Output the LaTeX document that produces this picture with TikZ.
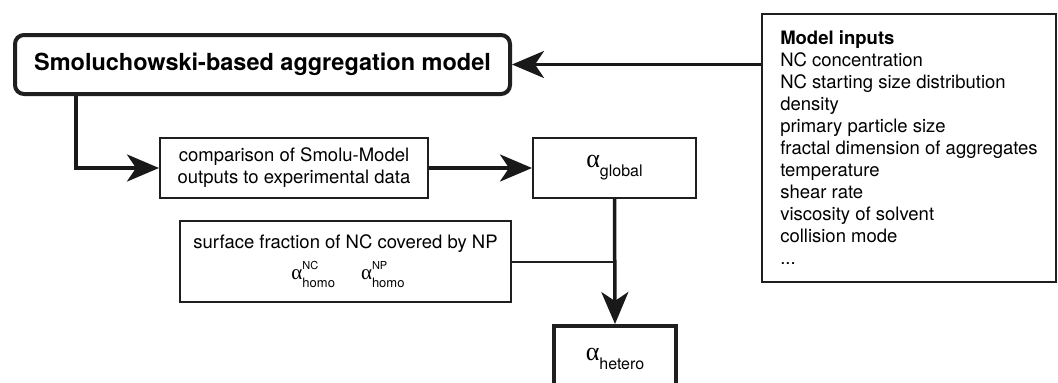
\documentclass[tikz,border=0pt]{standalone}
\usepackage{fontspec}
\setmainfont{TeX Gyre Heros}
\newfontfamily\grk{Liberation Serif}
\usetikzlibrary{arrows.meta}
\newcommand\albig[1]{{\grk\fontsize{26}{26}\selectfont α}\raisebox{-9pt}{\fontsize{16}{16}\selectfont #1}}
\newcommand\alhomo[1]{{\grk\fontsize{21}{21}\selectfont α}\rlap{\raisebox{10pt}{\fontsize{11}{11}\selectfont #1}}\raisebox{-8pt}{\fontsize{13}{13}\selectfont homo}}
\begin{document}
\begin{tikzpicture}[x=1pt,y=-1pt,
  base/.style={draw=black!88, fill=white, inner sep=0pt, align=center,
    font=\fontsize{18.5}{22}\selectfont},
  thinbox/.style={base, line width=2pt},
  thickbox/.style={base, line width=4pt},
  arr/.style={line width=3.5pt, black!90,
    -{Stealth[length=32pt,width=27pt,inset=9pt]}},
  link/.style={line width=3.5pt, black!90},
  thinlink/.style={line width=2pt, black!88}]
\clip (0,0) rectangle (1058,383);
\fill[white] (0,0) rectangle (1058,383);

\node[thickbox, rounded corners=9pt, minimum width=495pt, minimum height=59pt,
  font=\fontsize{23.5}{26}\selectfont\bfseries] (smolu) at (262.5,64.5)
  {Smoluchowski-based aggregation model};

\node[thinbox, minimum width=268pt, minimum height=60pt] (comp) at (294,168)
  {comparison of Smolu-Model\\outputs to experimental data};

\node[thinbox, minimum width=163pt, minimum height=60pt] (aglob) at (614.5,168)
  {\albig{global}};

\node[thinbox, minimum width=331pt, minimum height=81pt] (surf) at (345.5,261.5)
  {surface fraction of NC covered by NP\\[8pt]\hspace*{5pt}\alhomo{NC}\hspace{26pt}\alhomo{NP}};

\node[thickbox, minimum width=122pt, minimum height=66pt] (hetero) at (615,359)
  {\albig{hetero}};

\node[thinbox, minimum width=294pt, minimum height=268pt,
  align=left] (inputs) at (909,148)
  {\textbf{Model inputs}\\
   NC concentration\\
   NC starting size distribution\\
   density\\
   primary particle size\\
   fractal dimension of aggregates\\
   temperature\\
   shear rate\\
   viscosity of solvent\\
   collision mode\\
   ...};

\coordinate (bend) at (76,168);
\draw[arr] (smolu.south -| bend) -- (bend) -- (comp.west);
\draw[arr] (comp.east) -- (aglob.west);
\draw[arr] (smolu.east -| inputs.west) -- (smolu.east);
\draw[thinlink] (surf.east) -- (surf.east -| aglob.south);
\draw[arr] (aglob.south) -- (hetero.north);
\end{tikzpicture}
\end{document}
